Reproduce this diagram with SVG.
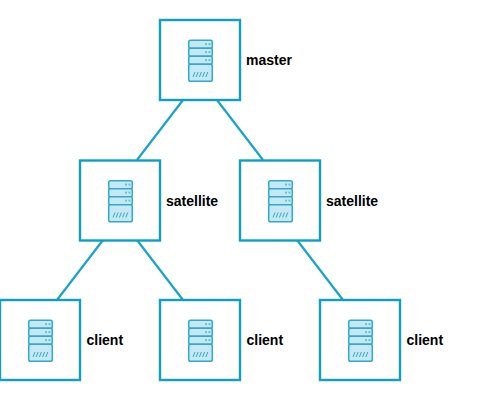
<svg xmlns="http://www.w3.org/2000/svg" width="502" height="400" viewBox="0 0 502 400">
<style>
.box{fill:#fff;stroke:#0f9fc6;stroke-width:2.4}
.conn{stroke:#1aa3c8;stroke-width:2.2;fill:none}
.lbl{font-family:"Liberation Sans",Arial,sans-serif;font-size:14px;font-weight:bold;fill:#000}
.u{fill:#c5e8f3;stroke:#2fa9cc;stroke-width:1.5}
.d{fill:#6fbfd8}
.h{stroke:#2fa9cc;stroke-width:1;fill:none}
</style>
<defs>
<g id="srv">
<rect class="u" x="0.700" y="0.700" width="23.600" height="8" rx="1.800"/>
<rect class="u" x="0.700" y="8.700" width="23.600" height="8" rx="1.800"/>
<rect class="u" x="0.700" y="16.700" width="23.600" height="8" rx="1.800"/>
<rect class="u" x="0.700" y="24.700" width="23.600" height="17" rx="1.800"/>
<rect class="d" x="17" y="3.600" width="2" height="2"/><rect class="d" x="20.500" y="3.600" width="2" height="2"/>
<rect class="d" x="17" y="11.600" width="2" height="2"/><rect class="d" x="20.500" y="11.600" width="2" height="2"/>
<rect class="d" x="17" y="19.600" width="2" height="2"/><rect class="d" x="20.500" y="19.600" width="2" height="2"/>
<path class="h" d="M5 37.500l2-5M8.200 37.500l2-5M11.400 37.500l2-5M14.600 37.500l2-5M17.800 37.500l2-5"/>
</g>
</defs>
<g id="connectors">
<line class="conn" x1="183" y1="100" x2="137" y2="160"/>
<line class="conn" x1="217" y1="100" x2="263" y2="160"/>
<line class="conn" x1="103" y1="240" x2="57" y2="300"/>
<line class="conn" x1="137" y1="240" x2="183" y2="300"/>
<line class="conn" x1="297" y1="240" x2="343" y2="300"/>
</g>
<g id="master"><rect class="box" x="160" y="20" width="80" height="80"/><use href="#srv" x="188" y="39.500"/><text class="lbl" x="246" y="65">master</text></g>
<g id="satellite1"><rect class="box" x="80" y="160.500" width="80" height="80"/><use href="#srv" x="108" y="180"/><text class="lbl" x="166" y="206">satellite</text></g>
<g id="satellite2"><rect class="box" x="240" y="160.500" width="80" height="80"/><use href="#srv" x="268" y="180"/><text class="lbl" x="326" y="206">satellite</text></g>
<g id="client1"><rect class="box" x="0" y="300" width="80" height="80"/><use href="#srv" x="28" y="319.500"/><text class="lbl" x="86.500" y="345">client</text></g>
<g id="client2"><rect class="box" x="160" y="300" width="80" height="80"/><use href="#srv" x="188" y="319.500"/><text class="lbl" x="246.500" y="345">client</text></g>
<g id="client3"><rect class="box" x="320" y="300" width="80" height="80"/><use href="#srv" x="348" y="319.500"/><text class="lbl" x="406.500" y="345">client</text></g>
</svg>
